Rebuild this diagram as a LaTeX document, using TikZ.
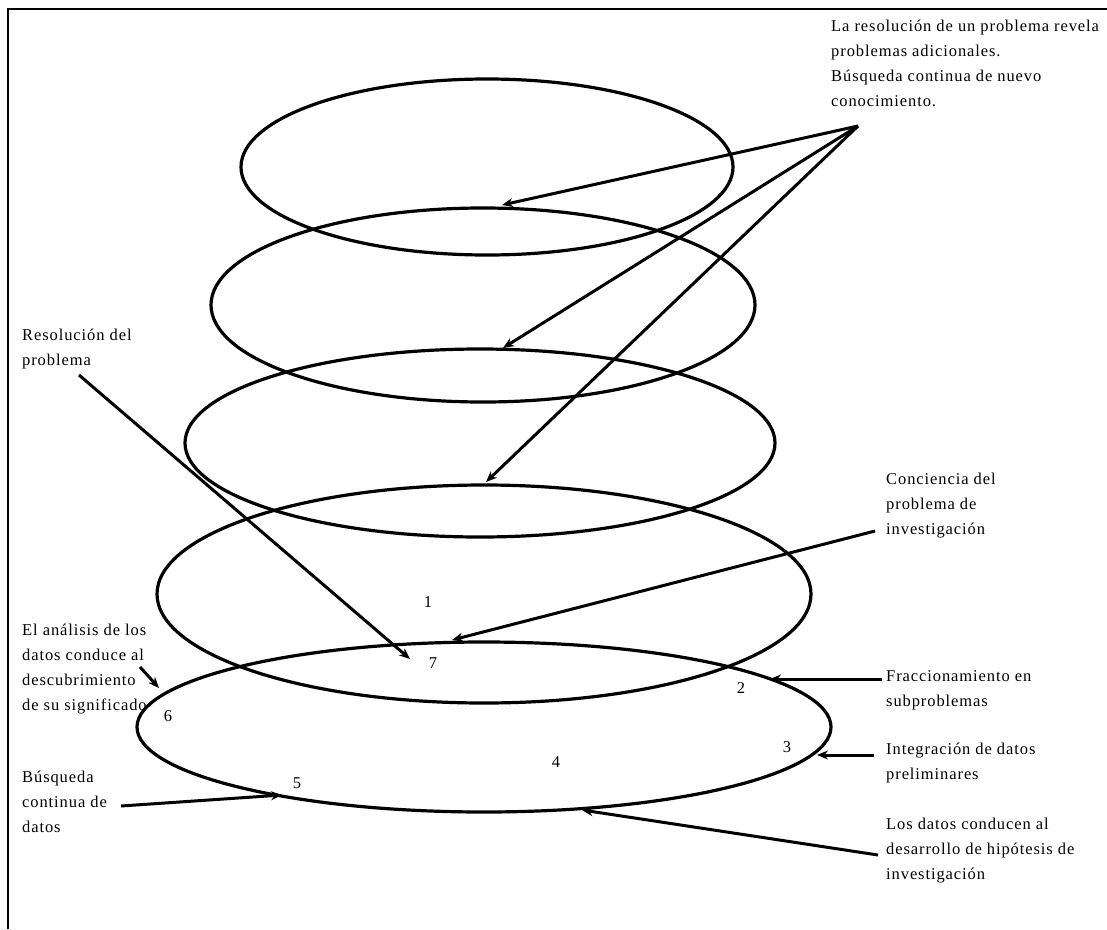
\documentclass[tikz,border=0pt]{standalone}
\usepackage{fontspec}
\setmainfont[LetterSpace=5.5]{Liberation Serif}
\usetikzlibrary{shapes.geometric,arrows.meta}
\tikzset{
  ring/.style={ellipse, draw, line width=3.2pt, inner sep=0pt},
  conn/.style={line width=3pt, -{Stealth[length=11pt,width=9pt]}},
  lbl/.style={anchor=north west, inner sep=0pt, align=left, font=\fontsize{16.5}{25}\selectfont},
  num/.style={inner sep=0pt, font=\fontsize{16.5}{18}\selectfont},
  frame/.style={line width=2pt}
}
\begin{document}
\begin{tikzpicture}[x=1pt,y=-1pt]
\useasboundingbox (0,0) rectangle (1107,929);
% frame (only top and left visible)
\coordinate (fb) at (8,929);
\coordinate (fc) at (8,9);
\coordinate (fr) at (1107,9);
\draw[frame] (fb) -- (fc) -- (fr);
% ellipses
\node[ring, minimum width=492pt, minimum height=176pt] (e1) at (487,167) {};
\node[ring, minimum width=544pt, minimum height=194pt] (e2) at (483,305) {};
\node[ring, minimum width=590pt, minimum height=188pt] (e3) at (480,443) {};
\node[ring, minimum width=654pt, minimum height=218pt] (e4) at (484,594) {};
\node[ring, minimum width=694pt, minimum height=170pt] (e5) at (484,727) {};
% labels
\node[lbl] (tA) at (831,14) {\strut La resolución de un problema revela\\problemas adicionales.\\Búsqueda continua de nuevo\\conocimiento.};
\node[lbl] (tB) at (22,323) {\strut Resolución del\\problema};
\node[lbl] (tC) at (886,467) {\strut Conciencia del\\problema de\\investigación};
\node[lbl] (tD) at (886,664) {\strut Fraccionamiento en\\subproblemas};
\node[lbl] (tE) at (886,737) {\strut Integración de datos\\preliminares};
\node[lbl] (tF) at (886,812) {\strut Los datos conducen al\\desarrollo de hipótesis de\\investigación};
\node[lbl] (tG) at (22,618) {\strut El análisis de los\\datos conduce al\\descubrimiento\\de su significado};
\node[lbl] (tH) at (22,765) {\strut Búsqueda\\continua de\\datos};
% numbers
\node[num] (n1) at (428,602) {1};
\node[num] (n7) at (433,663) {7};
\node[num] (n4) at (556,762) {4};
\node[num] (n2) at (741,688) {2};
\node[num] (n3) at (787,747) {3};
\node[num] (n6) at (168,716) {6};
\node[num] (n5) at (297,783) {5};
% arrow endpoints
\coordinate (sA) at (858,126);
\coordinate (tA1) at (502,205);
\coordinate (tA2) at (503,348);
\coordinate (tA3) at (486,482);
\coordinate (sB) at (79,375);
\coordinate (tB1) at (410,659);
\coordinate (sC) at (875,531);
\coordinate (tC1) at (452,640);
\coordinate (sD) at (882,679);
\coordinate (tD1) at (770,679);
\coordinate (sE) at (874,755);
\coordinate (tE1) at (817,755);
\coordinate (sF) at (878,855);
\coordinate (tF1) at (582,810);
\coordinate (sG) at (140,667);
\coordinate (tG1) at (159,688);
\coordinate (sH) at (121,806);
\coordinate (tH1) at (282,795);
% connectors
\draw[conn] (sA) -- (tA1);
\draw[conn] (sA) -- (tA2);
\draw[conn] (sA) -- (tA3);
\draw[conn] (sB) -- (tB1);
\draw[conn] (sC) -- (tC1);
\draw[conn] (sD) -- (tD1);
\draw[conn] (sE) -- (tE1);
\draw[conn] (sF) -- (tF1);
\draw[conn] (sG) -- (tG1);
\draw[conn] (sH) -- (tH1);
\end{tikzpicture}
\end{document}
